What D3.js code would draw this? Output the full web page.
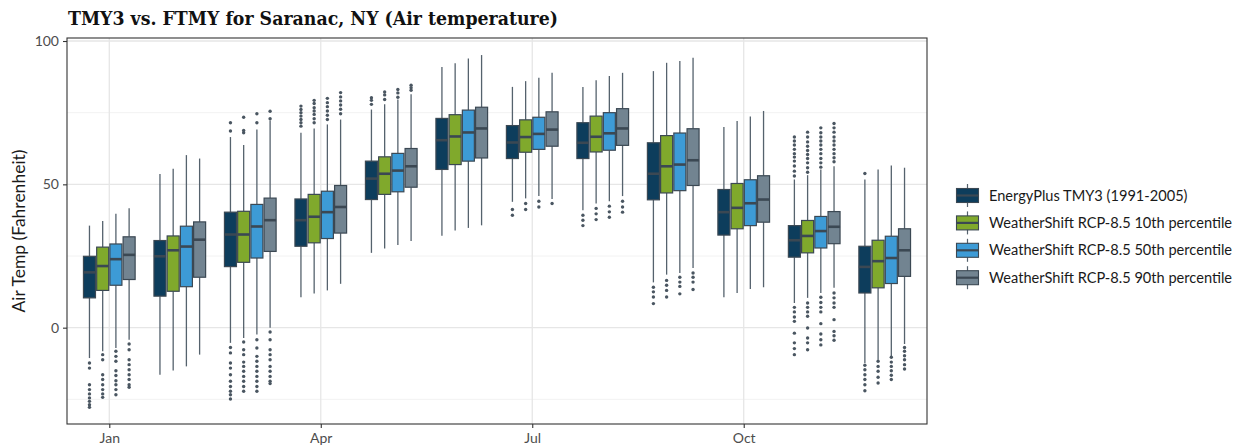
<!DOCTYPE html>
<html>
<head>
<meta charset="utf-8">
<script src="https://cdn.jsdelivr.net/npm/d3@7"></script>
<style>
  body { margin: 0; background: #fff; }
</style>
</head>
<body>
<script>
// months 1..12, four series per month
var months = [1, 2, 3, 4, 5, 6, 7, 8, 9, 10, 11, 12];
var tickMonths = [1, 4, 7, 10];
var tickNames = ["Jan", "Apr", "Jul", "Oct"];
var yTicks = [0, 50, 100];
var yMinor = [-25, 25, 75];

var seriesNames = ["EnergyPlus TMY3 (1991-2005)",
                   "WeatherShift RCP-8.5 10th percentile",
                   "WeatherShift RCP-8.5 50th percentile",
                   "WeatherShift RCP-8.5 90th percentile"];
var seriesColors = ["#0d3d5c", "#80a92c", "#3d9bd6", "#728491"];

// per series: one value per month
var whiskerLow = [
  [-10.6, -16.4, -5.3, 10.6, 26.1, 32.1, 43.9, 41.0, 15.8, 10.6, 8.6, -12.3],
  [-8.2, -14.9, -3.6, 11.9, 27.6, 33.9, 45.1, 43.3, 18.5, 12.1, 10.4, -11.2],
  [-7.1, -13.5, -2.4, 13.0, 28.8, 34.8, 45.9, 44.1, 19.1, 13.5, 12.1, -10.0],
  [-4.2, -9.4, 0.0, 15.3, 30.2, 35.7, 44.9, 45.9, 20.8, 14.1, 13.9, -5.7]
];
var q1 = [
  [10.4, 11.0, 21.3, 28.4, 44.7, 55.2, 59.0, 59.0, 44.6, 32.3, 24.6, 12.1],
  [13.0, 12.7, 22.8, 29.6, 46.5, 56.9, 61.2, 61.3, 47.0, 34.5, 26.1, 13.9],
  [14.8, 14.3, 24.3, 31.1, 47.4, 58.1, 62.2, 61.9, 47.8, 35.6, 27.8, 15.4],
  [16.8, 17.6, 26.6, 33.0, 49.0, 59.2, 63.3, 63.6, 49.6, 36.8, 29.3, 17.9]
];
var median = [
  [19.3, 24.9, 32.5, 37.5, 52.0, 65.4, 64.6, 64.5, 53.7, 40.3, 30.5, 21.2],
  [21.5, 27.0, 32.5, 38.7, 53.7, 66.7, 66.5, 66.6, 56.3, 41.8, 32.0, 23.2],
  [23.9, 28.3, 35.3, 40.3, 54.8, 68.1, 67.6, 67.8, 56.9, 43.4, 33.7, 24.3],
  [25.4, 30.7, 37.5, 42.1, 56.3, 69.5, 69.1, 69.5, 58.4, 44.7, 35.2, 27.0]
];
var q3 = [
  [24.9, 30.4, 40.3, 44.9, 58.1, 73.0, 70.5, 71.5, 64.5, 48.2, 35.6, 28.4],
  [28.1, 32.0, 40.6, 46.5, 59.6, 74.3, 72.5, 73.8, 67.0, 50.3, 37.4, 30.5],
  [29.2, 35.4, 43.0, 47.6, 60.8, 75.9, 73.4, 75.0, 67.9, 51.6, 38.8, 31.9],
  [31.7, 36.9, 45.2, 49.6, 62.5, 76.9, 75.3, 76.4, 69.4, 53.0, 40.5, 34.5]
];
var whiskerHigh = [
  [35.6, 53.6, 66.5, 68.0, 76.1, 90.9, 84.0, 84.0, 89.5, 70.0, 51.7, 51.7],
  [37.2, 55.4, 63.7, 69.5, 77.9, 92.2, 86.0, 86.3, 92.4, 72.1, 53.2, 55.2],
  [39.7, 60.2, 69.1, 70.9, 79.6, 93.9, 87.2, 87.8, 93.0, 73.7, 55.2, 56.6],
  [41.7, 59.0, 72.3, 72.6, 81.4, 95.1, 88.9, 88.9, 94.2, 75.6, 56.3, 55.8]
];
var outliers = [
  [[-12.3, -14.1, -19.9, -21.6, -23.1, -24.5, -25.7, -26.9, -27.8], [],
   [71.5, 68.6, -6.9, -8.8, -12.3, -14.1, -16.4, -18.7, -20.5, -22.2, -23.4, -24.9],
   [77.3, 76.1, 75.0, 73.8, 72.6, 71.5, 70.3], [80.2, 79.3, 77.9], [],
   [41.2, 39.2], [39.2, 37.5, 35.6], [14.1, 12.5, 10.7, 8.4], [],
   [66.5, 65.1, 63.7, 62.2, 60.7, 59.5, 58.1, 56.4, 54.6, 52.9, 7.1, 5.5, 3.7, 2.2, -1.9, -5.3, -7.3, -9.4],
   [53.8, -13.1, -14.7, -16.4, -18.1, -19.9, -22.0]],
  [[-9.4, -11.2, -16.4, -18.1, -19.9, -21.6, -23.1, -24.3], [],
   [73.4, 68.8, 68.0, -5.0, -7.7, -9.4, -12.0, -13.5, -15.2, -17.0, -18.7, -20.5, -22.2],
   [79.3, 78.2, 76.7, 75.6, 74.4, 72.9, 71.5], [82.2, 81.2, 79.6], [],
   [43.3, 41.2], [41.6, 39.7, 37.7], [16.5, 14.8, 13.0, 10.7], [],
   [68.2, 66.5, 64.8, 63.3, 61.8, 60.4, 59.0, 57.5, 55.8, 54.2, 8.6, 7.1, 5.5, 4.0, -0.1, -3.6, -5.3, -7.7],
   [-11.7, -13.5, -15.2, -17.3, -19.3]],
  [[-8.2, -10.0, -11.7, -15.0, -16.7, -18.5, -19.9, -21.6, -23.4], [],
   [74.6, 71.5, -4.2, -7.1, -10.0, -11.7, -13.5, -15.2, -17.0, -18.7, -20.5, -22.2],
   [80.0, 78.5, 77.1, 75.6, 74.1, 72.6], [83.1, 81.9, 80.4], [],
   [44.1, 42.1], [42.4, 40.4, 38.5], [17.6, 15.9, 14.4, 11.8], [],
   [69.7, 68.0, 66.5, 65.1, 63.7, 62.2, 60.7, 59.0, 57.5, 56.0, 10.6, 8.8, 7.1, 5.5, 1.4, -2.2, -4.2, -6.0],
   [-10.3, -12.0, -13.5, -15.0, -16.6, -18.1]],
  [[-5.7, -7.7, -11.2, -12.9, -14.7, -16.4, -18.1, -19.9, -20.8], [],
   [75.5, 72.9, -1.5, -4.2, -7.7, -9.4, -11.2, -13.5, -15.2, -17.0, -18.7, -19.5],
   [82.0, 80.5, 79.1, 77.7, 76.2, 74.6], [84.6, 83.7, 82.8], [],
   [43.3], [44.1, 42.1, 40.3], [19.1, 17.6, 15.9, 13.3], [],
   [71.2, 69.7, 68.2, 66.5, 65.1, 63.7, 62.2, 60.7, 59.3, 57.9, 12.1, 10.4, 8.6, 7.1, 2.8, -1.3, -2.8, -4.4],
   [-6.9, -8.2, -9.8, -11.2, -12.9, -14.4]]
];

var W = 1242, H = 448;
var pLeft = 67, pRight = 927, pTop = 38, pBottom = 424;

var svg = d3.select("body").append("svg")
            .attr("width", W)
            .attr("height", H)
            .attr("font-family", "Lato, 'Open Sans', sans-serif");

var x = d3.scaleLinear().domain([0.4, 12.6]).range([pLeft, pRight]);
var y = d3.scaleLinear().domain([-33.6, 101.05]).range([pBottom, pTop]);

var groupW = x(1.75) - x(1);   // dodge width 0.75
var step = groupW / 4;

// grid
svg.selectAll(".minor").data(yMinor).enter().append("line")
   .attr("x1", pLeft).attr("x2", pRight)
   .attr("y1", function(d) { return y(d); })
   .attr("y2", function(d) { return y(d); })
   .attr("stroke", "#f2f2f2").attr("stroke-width", 1);
svg.selectAll(".major").data(yTicks).enter().append("line")
   .attr("x1", pLeft).attr("x2", pRight)
   .attr("y1", function(d) { return y(d); })
   .attr("y2", function(d) { return y(d); })
   .attr("stroke", "#e6e6e6").attr("stroke-width", 1.3);
svg.selectAll(".vgrid").data(tickMonths).enter().append("line")
   .attr("x1", function(d) { return x(d); })
   .attr("x2", function(d) { return x(d); })
   .attr("y1", pTop).attr("y2", pBottom)
   .attr("stroke", "#e6e6e6").attr("stroke-width", 1.3);

var lineCol = "#55626d";
var boxEdge = "#3b4853";

seriesNames.forEach(function(name, s) {
  var g = svg.append("g");
  months.forEach(function(m, i) {
    var cx = x(m) - groupW / 2 + step * (s + 0.5);
    // whiskers
    g.append("line")
     .attr("x1", cx).attr("x2", cx)
     .attr("y1", y(whiskerHigh[s][i])).attr("y2", y(q3[s][i]))
     .attr("stroke", lineCol).attr("stroke-width", 1.3);
    g.append("line")
     .attr("x1", cx).attr("x2", cx)
     .attr("y1", y(q1[s][i])).attr("y2", y(whiskerLow[s][i]))
     .attr("stroke", lineCol).attr("stroke-width", 1.3);
    g.append("rect")
     .attr("x", cx - step / 2 + 0.6)
     .attr("width", step - 1.2)
     .attr("y", y(q3[s][i]))
     .attr("height", y(q1[s][i]) - y(q3[s][i]))
     .attr("fill", seriesColors[s])
     .attr("stroke", boxEdge).attr("stroke-width", 1.2);
    g.append("line")
     .attr("x1", cx - step / 2 + 0.6).attr("x2", cx + step / 2 - 0.6)
     .attr("y1", y(median[s][i])).attr("y2", y(median[s][i]))
     .attr("stroke", boxEdge).attr("stroke-width", 2.6);
    g.selectAll(".o").data(outliers[s][i]).enter().append("circle")
     .attr("cx", cx)
     .attr("cy", function(d) { return y(d); })
     .attr("r", 1.7)
     .attr("fill", "#4a5661");
  });
});

// panel border
svg.append("rect")
   .attr("x", pLeft).attr("y", pTop)
   .attr("width", pRight - pLeft).attr("height", pBottom - pTop)
   .attr("fill", "none").attr("stroke", "#333").attr("stroke-width", 1.1);

// axes
var yAxis = svg.append("g")
   .attr("transform", "translate(" + pLeft + ",0)")
   .call(d3.axisLeft(y).tickValues(yTicks).tickSize(4).tickPadding(4));
var xAxis = svg.append("g")
   .attr("transform", "translate(0," + pBottom + ")")
   .call(d3.axisBottom(x).tickValues(tickMonths).tickSize(4).tickPadding(5)
         .tickFormat(function(d, i) { return tickNames[i]; }));
[yAxis, xAxis].forEach(function(a) {
  a.select(".domain").remove();
  a.selectAll("line").attr("stroke", "#333").attr("stroke-width", 1.1);
  a.selectAll("text").attr("fill", "#4d4d4d").attr("font-size", "14px")
   .attr("font-family", "Lato, sans-serif");
});

// titles
svg.append("text")
   .attr("x", 68).attr("y", 25)
   .attr("font-family", "'DejaVu Serif Condensed', 'DejaVu Serif', serif")
   .attr("font-weight", "bold")
   .attr("font-size", "19px")
   .attr("textLength", 490)
   .attr("lengthAdjust", "spacingAndGlyphs")
   .attr("fill", "#111")
   .text("TMY3 vs. FTMY for Saranac, NY (Air temperature)");

svg.append("text")
   .attr("transform", "translate(25," + ((pTop + pBottom) / 2) + ") rotate(-90)")
   .attr("text-anchor", "middle")
   .attr("font-size", "17.5px")
   .attr("fill", "#1a1a1a")
   .text("Air Temp (Fahrenheit)");

// legend
var legend = svg.append("g").attr("transform", "translate(956,184)");
seriesNames.forEach(function(name, s) {
  var ly = s * 27.4;
  var k = legend.append("g").attr("transform", "translate(0," + ly + ")");
  k.append("line").attr("x1", 11.5).attr("x2", 11.5).attr("y1", 0).attr("y2", 23)
   .attr("stroke", lineCol).attr("stroke-width", 1.2);
  k.append("rect").attr("x", 0.5).attr("y", 4.5).attr("width", 22).attr("height", 14)
   .attr("fill", seriesColors[s]).attr("stroke", boxEdge).attr("stroke-width", 1.1);
  k.append("line").attr("x1", 0.5).attr("x2", 22.5).attr("y1", 11.5).attr("y2", 11.5)
   .attr("stroke", boxEdge).attr("stroke-width", 2.2);
  k.append("text").attr("x", 33).attr("y", 16.5)
   .attr("font-size", "14.6px").attr("fill", "#1a1a1a")
   .text(name);
});
</script>
</body>
</html>
